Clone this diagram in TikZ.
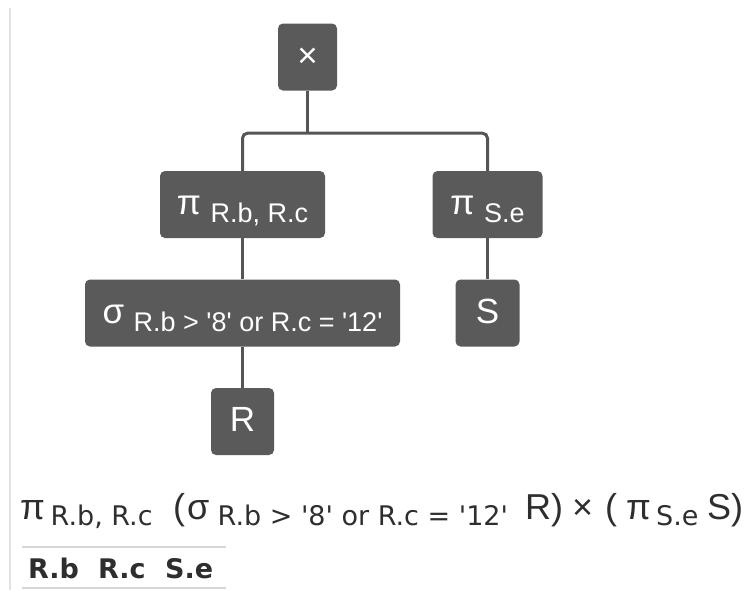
\documentclass[tikz,border=0pt]{standalone}
\usepackage{fontspec}
\setmainfont{Liberation Sans}[Ligatures=TeXOff]
\newfontfamily\subfont{DejaVu Sans}[Ligatures=TeXOff]
\definecolor{boxgray}{HTML}{5A5A5A}
\definecolor{wiregray}{HTML}{555555}
\definecolor{inkgray}{HTML}{2E2E2E}
\definecolor{rulegray}{HTML}{D6D6D6}
\definecolor{edgegray}{HTML}{E2E2E2}
% operator and subscript sizes inside the tree boxes
\newcommand{\opsz}{\fontsize{35pt}{35pt}\selectfont}
\newcommand{\subsz}{\fontsize{27pt}{27pt}\selectfont}
\newcommand{\opwith}[2]{{\opsz #1}\hspace{9.5pt}\raisebox{-8pt}{\subsz #2}}
% sizes for the expression line and the result header
\newcommand{\exprsz}{\fontsize{36pt}{36pt}\selectfont}
\newcommand{\exprsub}{\subfont\fontsize{27pt}{27pt}\selectfont}
\newcommand{\headsz}{\subfont\bfseries\fontsize{27pt}{27pt}\selectfont}
\begin{document}
\begin{tikzpicture}[x=1pt,y=-1pt,
  opbox/.style={fill=boxgray, rounded corners=5pt, text=white,
    inner xsep=0pt, inner ysep=0pt, text height=25pt, text depth=5pt,
    minimum height=67pt},
  wire/.style={draw=wiregray, line width=3pt},
  expr/.style={anchor=base west, inner sep=0pt, text=inkgray, font=\exprsz},
  exprs/.style={anchor=base west, inner sep=0pt, text=inkgray, font=\exprsub},
  head/.style={anchor=base west, inner sep=0pt, text=inkgray, font=\headsz}]
\useasboundingbox (0,0) rectangle (751,590);
% container edge on the left
\draw[edgegray, line width=2pt] (10,8) -- (10,590);

% operator tree
\node[opbox, minimum width=59pt]  (prod)  at (307.5,57)    {{\opsz ×}};
\node[opbox, minimum width=165pt] (projL) at (242.5,204.5) {\opwith{π}{R.b, R.c}};
\node[opbox, minimum width=110pt] (projR) at (487.5,204.5) {\opwith{π}{S.e}};
\node[opbox, minimum width=315pt] (sel)   at (242.5,313)   {\opwith{σ}{R.b > '8' or R.c = '12'}};
\node[opbox, minimum width=64pt]  (relS)  at (487.5,313)   {{\opsz S}};
\node[opbox, minimum width=63pt]  (relR)  at (242.5,421.5) {{\opsz R}};

\draw[wire] (prod.south) -- ++(0,42.5) coordinate (fork);
\draw[wire, rounded corners=5pt] (projL.north) |- (fork) -| (projR.north);
\draw[wire] (projL.south) -- (sel.north);
\draw[wire] (sel.south) -- (relR.north);
\draw[wire] (projR.south) -- (relS.north);

% algebra expression
\node[expr]  (x1)  at (20,519)    {π};
\node[exprs] (x2)  at (50.5,525)  {R.b, R.c};
\node[expr]  (x3)  at (173,519)   {(};
\node[expr]  (x4)  at (187,519)   {σ};
\node[exprs] (x5)  at (217.5,525) {R.b > '8' or R.c = '12'};
\node[expr]  (x6)  at (525,519)   {R)};
\node[expr]  (x7)  at (572,519)   {×};
\node[expr]  (x8)  at (605,519)   {(};
\node[expr]  (x9)  at (626,519)   {π};
\node[exprs] (x10) at (656,525)   {S.e};
\node[expr]  (x11) at (707,519)   {S)};

% result header
\draw[rulegray, line width=1.8pt] (22,547) -- (226,547);
\draw[rulegray, line width=1.8pt] (22,588) -- (226,588);
\node[head] (h1) at (28,578)  {R.b};
\node[head] (h2) at (98,578)  {R.c};
\node[head] (h3) at (165,578) {S.e};
\end{tikzpicture}
\end{document}
